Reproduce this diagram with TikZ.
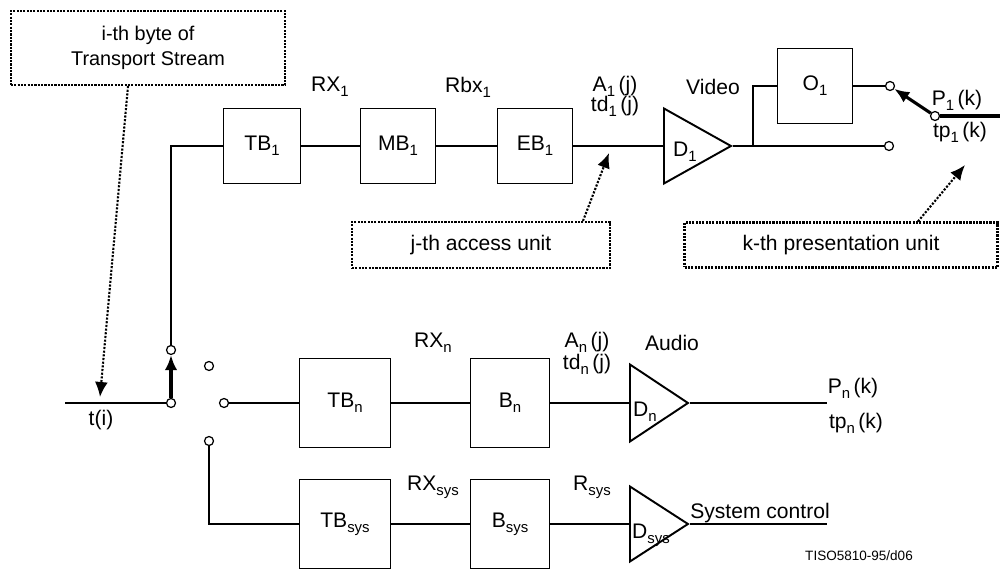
\documentclass[tikz,border=0pt]{standalone}
\usepackage{fontspec}
\setmainfont{Liberation Sans}
\usepackage{tikz}
\usetikzlibrary{arrows,arrows.meta,shapes,positioning}

\newcommand{\ix}[1]{\raisebox{-0.45ex}{\fontsize{8.5}{9}\selectfont #1}}

\tikzset{
  buf/.style={draw, line width=1.1pt, minimum width=1.5cm, minimum height=1.5cm, inner sep=0pt},
  dec/.style={draw, line width=1.1pt, isosceles triangle, isosceles triangle stretches, inner sep=0pt},
  port/.style={draw, circle, fill=white, inner sep=0pt, minimum size=0.18cm, line width=0.7pt},
  note/.style={draw, line width=1.2pt, dash pattern=on 1.2pt off 0.7pt, align=center},
  wire/.style={line width=1.1pt},
  bold/.style={line width=1.5pt},
  ptr/.style={->, >={Latex[length=3mm, width=2.6mm]}, line width=1.2pt, dash pattern=on 1.2pt off 0.9pt},
  sw/.style={->, >={Latex[length=3mm, width=2.5mm]}, line width=1.8pt},
}

\begin{document}
\begin{tikzpicture}[x=0.02cm, y=-0.02cm, font=\fontsize{12}{14}\selectfont]
        \useasboundingbox (0,0) rectangle (1000,570);

        \node[note, minimum width=5.48cm, minimum height=1.48cm, font=\fontsize{11.3}{14}\selectfont] (byte) at (148,48) {i-th byte of\\Transport Stream};
        \node[note, minimum width=5.16cm, minimum height=0.92cm] (au) at (481,245) {j-th access unit};
        \node[note, minimum width=6.26cm, minimum height=0.9cm] (pu) at (841,245) {k-th presentation unit};

        \node[buf, minimum width=1.54cm] (TB1) at (262,146) {TB\ix{1}};
        \node[buf] (MB1) at (398,146) {MB\ix{1}};
        \node[buf] (EB1) at (535,146) {EB\ix{1}};
        \node[buf] (O1) at (815,86) {O\ix{1}};

        \node[buf, minimum width=1.82cm, minimum height=1.78cm] (TBn) at (345,403) {TB\ix{n}};
        \node[buf, minimum width=1.58cm, minimum height=1.78cm] (Bn) at (510,403) {B\ix{n}};
        \node[buf, minimum width=1.82cm, minimum height=1.78cm] (TBs) at (345,524) {TB\ix{sys}};
        \node[buf, minimum width=1.58cm, minimum height=1.78cm] (Bs) at (510,524) {B\ix{sys}};

        \node[dec, minimum width=1.5cm, minimum height=1.34cm, anchor=lower side] (D1) at (663,146) {};
        \node[dec, minimum width=1.54cm, minimum height=1.16cm, anchor=lower side] (Dn) at (629,403) {};
        \node[dec, minimum width=1.5cm, minimum height=1.16cm, anchor=lower side] (Ds) at (629,524) {};
        \node (lD1) at (685,152) {D\ix{1}};
        \node (lDn) at (645,412) {D\ix{n}};
        \node (lDs) at (651,535) {D\ix{sys}};

        \node[port] (s0) at (171,403) {};
        \node[port] (s1) at (171,350) {};
        \node[port] (s2) at (209,366) {};
        \node[port] (s3) at (224,403) {};
        \node[port] (s4) at (209,441) {};
        \node[port] (vo) at (890,86) {};
        \node[port] (vd) at (889,146) {};
        \node[port] (ps) at (935,116) {};

        \coordinate (in) at (65,403);
        \coordinate (pout) at (1000,116);
        \coordinate (nout) at (827,403);
        \coordinate (sout) at (827,524);
        \coordinate (tap) at (753,146);
        \coordinate (ti) at (100,397);
        \coordinate (tj) at (609,153);
        \coordinate (tk) at (965,165);

        % labels
        \node (lRX1) at (330,87) {RX\ix{1}};
        \node (lRbx) at (468,87) {Rbx\ix{1}};
        \node (lA1) at (615,86) {A\ix{1}\,(j)};
        \node (ltd1) at (615,106) {td\ix{1}\,(j)};
        \node (lvid) at (713,87) {Video};
        \node (lP1) at (957,100) {P\ix{1}\,(k)};
        \node (ltp1) at (960,132) {tp\ix{1}\,(k)};
        \node (lti) at (101,420) {t(i)};
        \node (lRXn) at (433,343) {RX\ix{n}};
        \node (lAn) at (587,342) {A\ix{n}\,(j)};
        \node (ltdn) at (587,364) {td\ix{n}\,(j)};
        \node (laud) at (672,343) {Audio};
        \node (lPn) at (853,388) {P\ix{n}\,(k)};
        \node (ltpn) at (856,423) {tp\ix{n}\,(k)};
        \node (lRXs) at (433,487) {RX\ix{sys}};
        \node (lRs) at (592,487) {R\ix{sys}};
        \node (lsys) at (760,513) {System control};
        \node[font=\fontsize{7.7}{9}\selectfont] (ltag) at (859,556) {TISO5810-95/d06};

        % wires
        \draw[bold] (in) -- (s0);
        \draw[sw] (s0) -- (s1);
        \draw[wire] (s1) |- (TB1);
        \draw[wire] (TB1) -- (MB1);
        \draw[wire] (MB1) -- (EB1);
        \draw[wire] (EB1) -- (D1.lower side);
        \draw[wire] (D1.apex) -- (vd);
        \draw[wire] (tap) |- (O1);
        \draw[wire] (O1) -- (vo);
        \draw[sw] (ps) -- (vo);
        \draw[line width=1.8pt] (ps) -- (pout);

        \draw[bold] (s3) -- (TBn);
        \draw[bold] (TBn) -- (Bn);
        \draw[bold] (Bn) -- (Dn.lower side);
        \draw[bold] (Dn.apex) -- (nout);

        \draw[wire] (s4) |- (TBs);
        \draw[wire] (TBs) -- (Bs);
        \draw[wire] (Bs) -- (Ds.lower side);
        \draw[bold] (Ds.apex) -- (sout);

        % pointers
        \draw[ptr] ([xshift=-0.4cm]byte.south) -- (ti);
        \draw[ptr] ([xshift=2.04cm]au.north) -- (tj);
        \draw[ptr] ([xshift=1.54cm]pu.north) -- (tk);
    \end{tikzpicture}
\end{document}
